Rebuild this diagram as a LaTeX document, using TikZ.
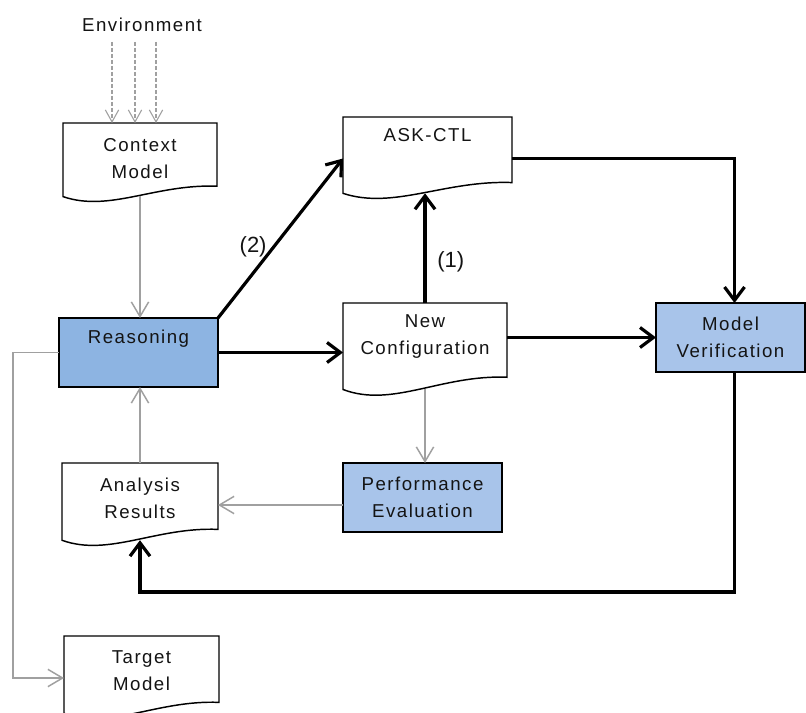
\documentclass[tikz,border=0pt]{standalone}
\usepackage{fontspec}
\setmainfont{Liberation Sans}
\usetikzlibrary{arrows.meta,calc}
\definecolor{lgray}{RGB}{160,160,160}
\definecolor{dblue}{RGB}{141,180,226}
\definecolor{lblue}{RGB}{168,196,234}
\definecolor{txtc}{RGB}{20,20,20}
% #1 name, #2 x1, #3 y1, #4 x2, #5 y2 (deepest point of the wave), #6 y of text, #7 text
\newcommand{\docnode}[7]{%
  \pgfmathsetmacro\dW{#4-#2}%
  \pgfmathsetmacro\dH{#5-#3}%
  \pgfmathsetmacro\dWpt{(#4-#2)*0.75}%
  \pgfmathsetmacro\dHpt{(#5-#3)*0.75}%
  \node[frame, minimum width=\dWpt pt, minimum height=\dHpt pt] (#1) at ({(#2+#4)/2},{(#3+#5)/2}) {};
  \draw[docline] (#2,#3) -- (#4,#3) -- (#4,{#3+0.79*\dH})
     .. controls ({#2+0.6*\dW},{#3+0.76*\dH}) and ({#2+0.3*\dW},{#3+1.12*\dH}) .. (#2,{#3+0.92*\dH})
     coordinate[pos=0.5] (#1-b) -- cycle;
  \node[txt] (#1-t) at ({(#2+#4)/2},#6) {#7};
}
\begin{document}
\begin{tikzpicture}[x=0.75pt,y=-0.75pt,
  txt/.style={font=\fontsize{14}{20.25}\selectfont\addfontfeature{LetterSpace=8}, align=center, inner sep=0pt, text=txtc},
  lbl/.style={font=\fontsize{16.5}{19}\selectfont, inner sep=0pt, text=txtc},
  frame/.style={inner sep=0pt, outer sep=0pt, draw=none},
  docline/.style={draw=black, line width=1.1pt, fill=white},
  procbox/.style={draw=black, line width=1.1pt, inner sep=0pt, outer sep=0pt, txt},
  thk/.style={draw=black, line width=2.4pt, -{Straight Barb[length=10pt,width=15pt]}},
  thn/.style={draw=lgray, line width=1.1pt, -{Straight Barb[length=11pt,width=13pt]}},
  envarr/.style={draw=lgray, line width=0.8pt, dash pattern=on 3pt off 1.5pt, -{Straight Barb[length=9pt,width=10pt]}},
]
\useasboundingbox[fill=white] (0,0) rectangle (806,713);

% text and documents
\node[txt] (env) at (142,25) {Environment};
\docnode{ctx}{63}{123}{217}{203}{158.5}{Context\\Model}
\docnode{ask}{343}{117}{512}{200}{135}{ASK-CTL}
\docnode{newc}{343}{303}{507}{397}{337}{New\\Configuration}
\docnode{anres}{62}{463}{218}{547}{498}{Analysis\\Results}
\docnode{targ}{64}{636}{219}{720}{670.5}{Target\\Model}

% process boxes
\node[procbox, fill=dblue, minimum width=119.25pt, minimum height=51.75pt] (reas) at (138.5,352.5) {};
\node[txt] (reas-t) at (138.5,339) {Reasoning};
\node[procbox, fill=lblue, minimum width=111.75pt, minimum height=51.75pt] (mver) at (730.5,337.5) {Model\\Verification};
\node[procbox, fill=lblue, minimum width=119.25pt, minimum height=51.75pt] (perf) at (422.5,497.5) {Performance\\Evaluation};

% environment arrows
\coordinate (e1) at (112,42);
\coordinate (e2) at (135,42);
\coordinate (e3) at (156,42);
\draw[envarr] (e1) -- (e1 |- ctx.north);
\draw[envarr] (e2) -- (e2 |- ctx.north);
\draw[envarr] (e3) -- (e3 |- ctx.north);

% grey connectors
\draw[thn] (ctx.south |- ctx-b) -- (ctx.south |- reas.north);
\draw[thn] (newc.south |- newc-b) -- (newc.south |- perf.north);
\draw[thn] (anres.east -| perf.west) -- (anres.east);
\draw[thn] (anres.north) -- (anres.north |- reas.south);
\coordinate (rail) at (13,0);
\draw[thn] (reas.west) -- (reas.west -| rail) |- (targ.west);

% black connectors
\draw[thk] (reas.north east) -- (ask.west) node[lbl, pos=0.444, anchor=east, xshift=-4pt] (l2) {(2)};
\draw[thk] (reas.east) -- (reas.east -| newc.west);
\draw[thk] (newc.north) -- (newc.north |- ask-b) node[lbl, pos=0.377, anchor=west, xshift=8pt] (l1) {(1)};
\draw[thk] (mver.west -| newc.east) -- (mver.west);
\draw[thk] (ask.east) -| ([xshift=3pt]mver.north);
\coordinate (low) at (400,592);
\draw[thk] ([xshift=3pt]mver.south) |- (low) -| (anres.south |- anres-b);
\end{tikzpicture}
\end{document}
